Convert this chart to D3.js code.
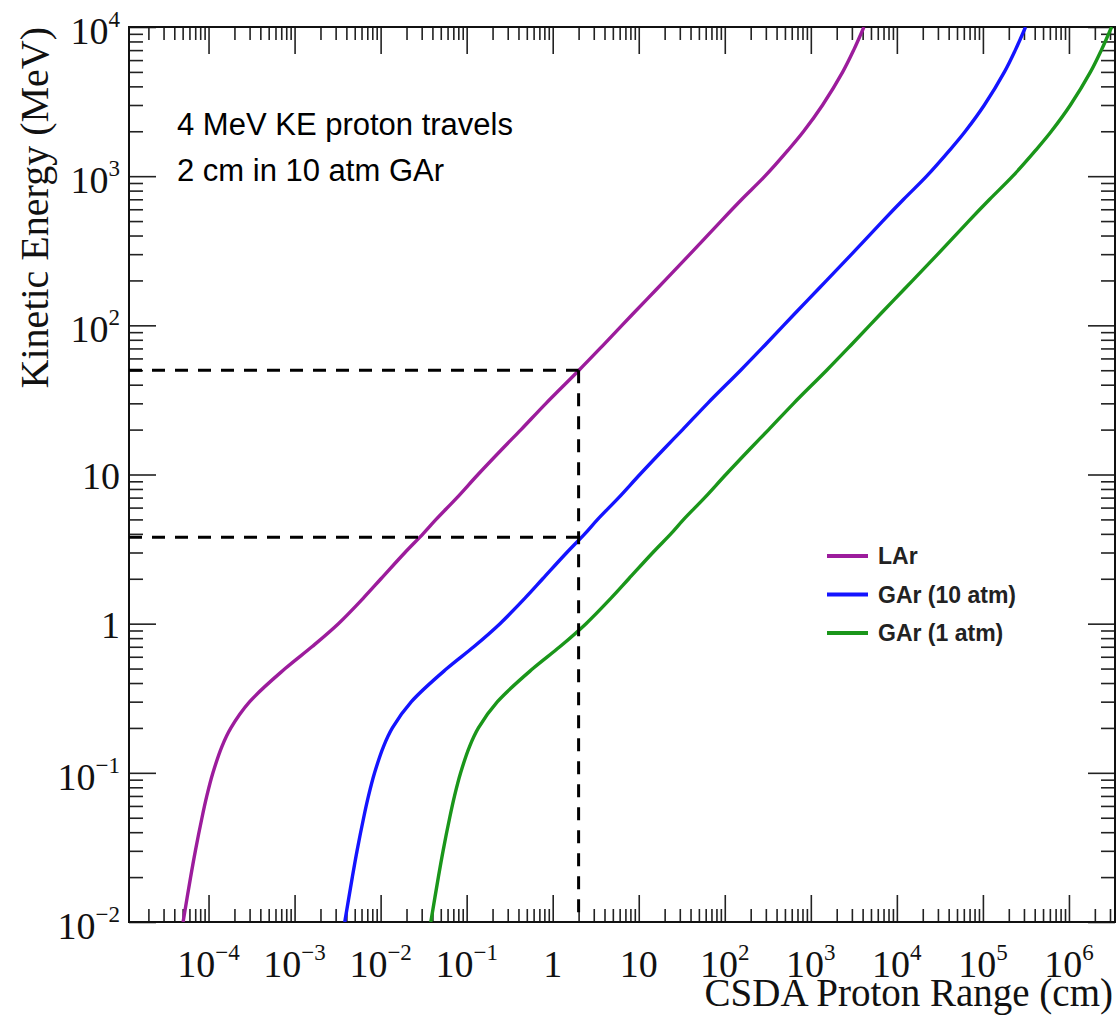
<!DOCTYPE html>
<html>
<head>
<meta charset="utf-8">
<script src="https://cdn.jsdelivr.net/npm/d3@7"></script>
<style>
  body { margin: 0; background: #fff; }
  svg { display: block; }
</style>
</head>
<body>
<div id="chart"></div>
<script>
// kinetic energy grid (MeV), shared by the three curves
var energyMeV = [0.01, 0.02, 0.03, 0.05, 0.07, 0.1, 0.15, 0.2, 0.3, 0.5, 0.7, 1, 1.5, 2, 3, 4, 5, 7, 10,
  15, 20, 30, 50, 70, 100, 150, 200, 300, 500, 700, 1000, 1500, 2000, 3000, 5000, 7000, 10000];

// CSDA proton range (cm)
var rangeLAr = [5.06e-5, 6.19e-5, 7.03e-5, 8.39e-5, 9.55e-5, 1.125e-4, 1.43e-4, 1.82e-4, 3.01e-4, 7.78e-4,
  1.59e-3, 3.23e-3, 6.41e-3, 1.01e-2, 1.92e-2, 3.11e-2, 4.41e-2, 7.73e-2, 0.1355, 0.264, 0.429, 0.836,
  2.02, 3.55, 6.38, 12.5, 20.2, 39.4, 90.4, 158, 293, 547, 826, 1371, 2350, 3148, 4140];
var rangeGAr10 = [3.83e-3, 4.69e-3, 5.32e-3, 6.35e-3, 7.23e-3, 8.51e-3, 1.08e-2, 1.37e-2, 2.28e-2, 5.89e-2,
  0.121, 0.244, 0.485, 0.766, 1.46, 2.36, 3.33, 5.85, 10.3, 20.0, 32.4, 63.2,
  153, 269, 483, 944, 1528, 2985, 6839, 1.20e4, 2.22e4, 4.14e4, 6.25e4, 1.04e5, 1.78e5, 2.38e5, 3.13e5];
var rangeGAr1 = [3.83e-2, 4.69e-2, 5.32e-2, 6.35e-2, 7.23e-2, 8.51e-2, 0.108, 0.137, 0.228, 0.589,
  1.21, 2.44, 4.85, 7.66, 14.6, 23.6, 33.3, 58.5, 103, 200, 324, 632,
  1530, 2690, 4830, 9440, 1.53e4, 2.99e4, 6.84e4, 1.20e5, 2.22e5, 4.14e5, 6.25e5, 1.04e6, 1.78e6, 2.38e6, 3.13e6];

var seriesNames = ['LAr', 'GAr (10 atm)', 'GAr (1 atm)'];
var seriesColors = ['#9c1c9c', '#1414ff', '#1a961a'];

// axis decades that get a label
var xLabelExp = [-4, -3, -2, -1, 0, 1, 2, 3, 4, 5, 6];
var yLabelExp = [-2, -1, 0, 1, 2, 3, 4];

// the dashed guide: 2 cm, 50 MeV and ~4 MeV
var guideRange = [2];
var guideEnergy = [50, 3.8];

var noteLines = ['4 MeV KE proton travels', '2 cm in 10 atm GAr'];

// set the dimensions and margins of the graph
var W = 1118, H = 1015;
var margin = { top: 27, right: 3, bottom: 93, left: 129 };
var width = W - margin.left - margin.right;
var height = H - margin.top - margin.bottom;

var svg = d3.select('#chart').append('svg')
  .attr('width', W)
  .attr('height', H);

var g = svg.append('g')
  .attr('transform', 'translate(' + margin.left + ',' + margin.top + ')');

var x = d3.scaleLog().domain([1.19e-5, 3.43e6]).range([0, width]);
var y = d3.scaleLog().domain([0.01, 10000]).range([height, 0]);

// tick values for a log axis, kept inside the domain
function logTicks(scale, lo, hi, minor) {
  var dom = scale.domain(), out = [];
  for (var e = lo; e <= hi; e++) {
    var ks = minor ? [2, 3, 4, 5, 6, 7, 8, 9] : [1];
    ks.forEach(function (k) {
      var v = +(k + 'e' + e);
      if (v >= dom[0] * 0.9999 && v <= dom[1] * 1.0001) out.push(v);
    });
  }
  return out;
}

var xMinor = logTicks(x, -5, 6, true), xMajor = logTicks(x, -5, 6, false);
var yMinor = logTicks(y, -2, 4, true), yMajor = logTicks(y, -2, 4, false);

function tickAxis(axisFn, scale, vals, size, tr) {
  var a = g.append('g').attr('class', 'ticks')
    .attr('transform', tr || null)
    .call(axisFn(scale).tickValues(vals).tickSize(size).tickSizeOuter(0).tickFormat(''));
  a.select('.domain').remove();
  a.selectAll('line').attr('stroke', '#222').attr('stroke-width', 1.6);
}

// ticks on all four sides, pointing inwards (ROOT style)
tickAxis(d3.axisBottom, x, xMinor, -13, 'translate(0,' + height + ')');
tickAxis(d3.axisBottom, x, xMajor, -27, 'translate(0,' + height + ')');
tickAxis(d3.axisTop, x, xMinor, -13);
tickAxis(d3.axisTop, x, xMajor, -27);
tickAxis(d3.axisLeft, y, yMinor, -14);
tickAxis(d3.axisLeft, y, yMajor, -27);
tickAxis(d3.axisRight, y, yMinor, -14, 'translate(' + width + ',0)');
tickAxis(d3.axisRight, y, yMajor, -27, 'translate(' + width + ',0)');

// frame
g.append('rect')
  .attr('width', width).attr('height', height)
  .attr('fill', 'none').attr('stroke', '#111').attr('stroke-width', 2);

// "10^n" style labels
function powerLabel(sel, e) {
  if (e === 0) { sel.text('1'); return; }
  if (e === 1) { sel.text('10'); return; }
  sel.append('tspan').text('10');
  sel.append('tspan').attr('font-size', 23).attr('dy', -17)
    .text(e < 0 ? '\u2212' + (-e) : String(e));
}

var serif = "'Liberation Serif', 'Times New Roman', serif";
var sans = "'Liberation Sans', Arial, Helvetica, sans-serif";

g.append('g').selectAll('text').data(xLabelExp).enter().append('text')
  .attr('x', function (d) { return x(Math.pow(10, d)); })
  .attr('y', height + 55)
  .attr('text-anchor', 'middle')
  .attr('font-family', serif)
  .attr('font-size', 38)
  .attr('fill', '#111')
  .each(function (d) { powerLabel(d3.select(this), d); });

g.append('g').selectAll('text').data(yLabelExp).enter().append('text')
  .attr('x', -9)
  .attr('y', function (d) { return y(Math.pow(10, d)) + (d === 0 || d === 1 ? 14 : 17); })
  .attr('text-anchor', 'end')
  .attr('font-family', serif)
  .attr('font-size', 38)
  .attr('fill', '#111')
  .each(function (d) { powerLabel(d3.select(this), d); });

// axis titles
svg.append('text')
  .attr('x', W - 5).attr('y', 1006)
  .attr('text-anchor', 'end')
  .attr('font-family', serif).attr('font-size', 39).attr('fill', '#111')
  .text('CSDA Proton Range (cm)');

svg.append('text')
  .attr('transform', 'translate(48,' + margin.top + ') rotate(-90)')
  .attr('text-anchor', 'end')
  .attr('font-family', serif).attr('font-size', 40).attr('fill', '#111')
  .text('Kinetic Energy (MeV)');

// curves
g.append('clipPath').attr('id', 'plotclip')
  .append('rect').attr('width', width).attr('height', height);

var series = [rangeLAr, rangeGAr10, rangeGAr1].map(function (r, i) {
  return { name: seriesNames[i], color: seriesColors[i],
    values: r.map(function (v, j) { return { r: v, e: energyMeV[j] }; }) };
});

var line = d3.line()
  .x(function (d) { return x(d.r); })
  .y(function (d) { return y(d.e); })
  .curve(d3.curveCatmullRom);

g.append('g').attr('clip-path', 'url(#plotclip)')
  .selectAll('path').data(series).enter().append('path')
  .attr('d', function (d) { return line(d.values); })
  .attr('fill', 'none')
  .attr('stroke', function (d) { return d.color; })
  .attr('stroke-width', 3.4)
  .attr('stroke-linejoin', 'round');

// dashed guide lines
var guide = g.append('g')
  .attr('stroke', '#000').attr('stroke-width', 3).attr('stroke-dasharray', '13,10');

guide.selectAll('.h').data(guideEnergy).enter().append('line')
  .attr('class', 'h')
  .attr('x1', 0).attr('x2', x(guideRange[0]))
  .attr('y1', function (d) { return y(d); })
  .attr('y2', function (d) { return y(d); });

guide.append('line')
  .attr('x1', x(guideRange[0])).attr('x2', x(guideRange[0]))
  .attr('y1', y(guideEnergy[0])).attr('y2', height);

// note
svg.append('g').selectAll('text').data(noteLines).enter().append('text')
  .attr('x', 177)
  .attr('y', function (d, i) { return 135 + i * 46; })
  .attr('font-family', sans).attr('font-size', 31).attr('fill', '#000')
  .text(function (d) { return d; });

// legend
var legend = svg.append('g').selectAll('.legend').data(series).enter().append('g')
  .attr('class', 'legend')
  .attr('transform', function (d, i) { return 'translate(827,' + (556 + i * 38.5) + ')'; });

legend.append('line')
  .attr('x1', 0).attr('x2', 41)
  .attr('stroke', function (d) { return d.color; })
  .attr('stroke-width', 4);

legend.append('text')
  .attr('x', 51).attr('y', 8)
  .attr('font-family', sans).attr('font-weight', 'bold').attr('font-size', 23)
  .attr('fill', '#222')
  .text(function (d) { return d.name; });
</script>
</body>
</html>
